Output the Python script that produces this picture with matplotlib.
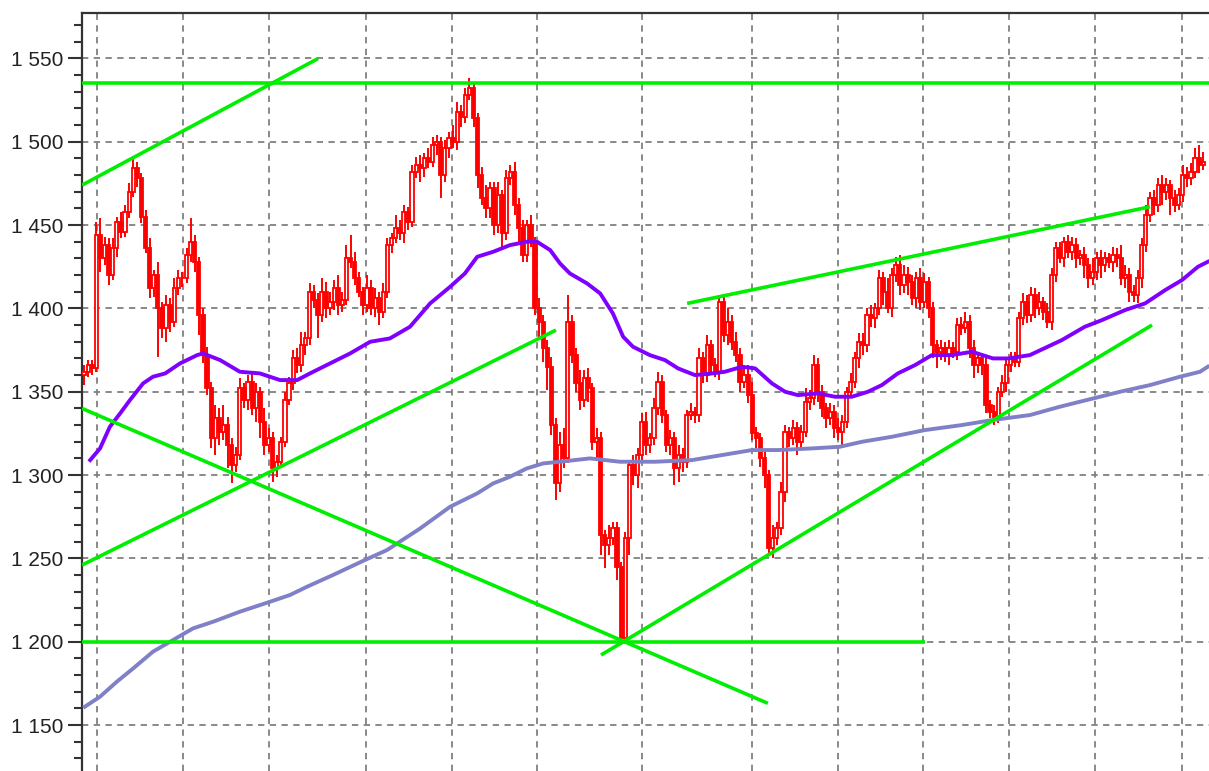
import numpy as np
import matplotlib.pyplot as plt
from matplotlib.ticker import MultipleLocator, FixedLocator, FuncFormatter

# daily closes left to right (10 per row)
closes = [
    1362, 1366, 1364, 1444, 1430, 1438, 1420, 1436, 1452, 1446,
    1458, 1470, 1484, 1478, 1455, 1436, 1412, 1420, 1400, 1388,
    1402, 1392, 1412, 1418, 1418, 1432, 1440, 1428, 1396, 1372,
    1352, 1322, 1334, 1326, 1330, 1318, 1306, 1312, 1352, 1345,
    1356, 1340, 1350, 1332, 1318, 1322, 1304, 1308, 1320, 1345,
    1355, 1370, 1366, 1378, 1382, 1410, 1405, 1396, 1410, 1400,
    1404, 1412, 1402, 1405, 1430, 1428, 1418, 1410, 1402, 1412,
    1400, 1406, 1398, 1410, 1438, 1442, 1448, 1445, 1458, 1452,
    1482, 1486, 1484, 1490, 1488, 1498, 1500, 1480, 1496, 1502,
    1500, 1518, 1515, 1528, 1532, 1514, 1480, 1466, 1460, 1472,
    1450, 1468, 1445, 1478, 1482, 1462, 1448, 1432, 1450, 1440,
    1400, 1392, 1376, 1365, 1330, 1295, 1318, 1310, 1392, 1372,
    1355, 1345, 1358, 1352, 1320, 1322, 1264, 1258, 1262, 1268,
    1245, 1202, 1262, 1306, 1300, 1312, 1332, 1318, 1322, 1340,
    1356, 1336, 1318, 1322, 1304, 1312, 1308, 1336, 1338, 1336,
    1370, 1360, 1378, 1366, 1362, 1404, 1384, 1392, 1380, 1372,
    1356, 1360, 1348, 1325, 1322, 1310, 1300, 1256, 1262, 1268,
    1290, 1326, 1322, 1328, 1320, 1326, 1344, 1346, 1366, 1350,
    1340, 1334, 1338, 1328, 1326, 1332, 1350, 1356, 1370, 1380,
    1378, 1396, 1394, 1400, 1418, 1410, 1400, 1420, 1426, 1414,
    1420, 1416, 1406, 1418, 1404, 1416, 1400, 1378, 1374, 1376,
    1372, 1376, 1374, 1390, 1388, 1392, 1376, 1366, 1370, 1366,
    1342, 1338, 1335, 1350, 1355, 1366, 1370, 1368, 1394, 1404,
    1396, 1408, 1400, 1404, 1398, 1392, 1420, 1436, 1430, 1440,
    1434, 1438, 1430, 1432, 1426, 1418, 1422, 1430, 1426, 1430,
    1428, 1432, 1430, 1418, 1420, 1410, 1408, 1418, 1438, 1456,
    1466, 1462, 1474, 1470, 1474, 1466, 1462, 1468, 1480, 1478,
    1482, 1490, 1486, 1488,
]
first_open = 1360

# wick sizes above / below the body
wick_up = [
    4, 3, 3, 8, 10, 5, 4, 6, 3, 6,
    4, 5, 6, 4, 3, 4, 6, 3, 8, 4,
    6, 4, 6, 5, 4, 4, 14, 4, 3, 4,
    5, 4, 8, 6, 12, 5, 4, 5, 6, 3,
    4, 6, 5, 3, 8, 6, 4, 4, 3, 5,
    4, 5, 6, 8, 4, 5, 4, 4, 8, 6,
    6, 5, 8, 5, 8, 14, 6, 4, 3, 8,
    5, 6, 4, 5, 4, 3, 8, 5, 4, 3,
    4, 5, 6, 3, 6, 5, 4, 3, 5, 4,
    8, 6, 4, 4, 6, 4, 3, 5, 8, 4,
    4, 8, 3, 5, 4, 6, 4, 5, 3, 6,
    3, 6, 4, 5, 6, 4, 8, 10, 16, 4,
    4, 8, 5, 6, 3, 6, 4, 3, 8, 4,
    4, 3, 4, 3, 6, 4, 5, 6, 3, 6,
    6, 4, 3, 5, 4, 6, 4, 3, 5, 3,
    6, 4, 6, 3, 4, 4, 3, 8, 4, 6,
    4, 5, 6, 8, 4, 3, 4, 3, 8, 4,
    6, 4, 3, 5, 4, 4, 8, 5, 6, 4,
    4, 3, 5, 4, 6, 4, 3, 5, 4, 5,
    5, 4, 6, 3, 5, 4, 8, 4, 5, 6,
    6, 5, 4, 4, 6, 5, 3, 4, 3, 5,
    4, 5, 4, 4, 5, 6, 4, 5, 4, 3,
    4, 3, 4, 3, 5, 4, 4, 4, 4, 5,
    4, 5, 4, 6, 3, 5, 4, 4, 4, 3,
    4, 5, 4, 3, 5, 4, 8, 4, 5, 4,
    3, 5, 4, 8, 6, 4, 4, 5, 4, 6,
    4, 5, 4, 6, 4, 3, 5, 4, 6, 5,
    5, 6, 8, 6,
]
wick_dn = [
    6, 3, 4, 2, 8, 4, 6, 3, 5, 4,
    3, 4, 3, 5, 4, 3, 6, 5, 29, 6,
    8, 6, 3, 4, 5, 3, 4, 6, 12, 5,
    4, 6, 10, 8, 5, 14, 11, 4, 3, 5,
    6, 4, 8, 10, 6, 4, 8, 5, 4, 3,
    3, 4, 5, 4, 6, 4, 5, 14, 4, 6,
    4, 5, 6, 4, 3, 4, 4, 3, 6, 4,
    4, 5, 8, 4, 4, 5, 3, 4, 6, 5,
    3, 4, 8, 5, 4, 3, 6, 14, 4, 6,
    4, 5, 6, 4, 3, 5, 8, 4, 6, 6,
    6, 5, 8, 4, 4, 6, 10, 4, 4, 3,
    4, 10, 8, 14, 6, 10, 5, 6, 3, 5,
    5, 6, 4, 8, 5, 10, 12, 14, 6, 4,
    8, 4, 3, 10, 6, 8, 4, 6, 5, 4,
    4, 5, 4, 6, 10, 8, 6, 4, 3, 5,
    4, 5, 4, 6, 3, 5, 4, 6, 5, 4,
    6, 4, 5, 4, 6, 5, 8, 4, 6, 4,
    4, 6, 5, 4, 8, 4, 3, 5, 4, 6,
    5, 6, 4, 6, 5, 8, 4, 3, 4, 6,
    6, 4, 5, 6, 4, 8, 3, 5, 4, 6,
    5, 8, 4, 6, 5, 4, 6, 8, 10, 5,
    4, 6, 4, 5, 4, 3, 6, 8, 5, 6,
    5, 4, 5, 4, 3, 5, 4, 3, 3, 4,
    5, 4, 6, 4, 5, 4, 5, 4, 3, 5,
    4, 5, 6, 4, 8, 6, 4, 5, 8, 4,
    4, 6, 5, 4, 6, 6, 4, 5, 6, 4,
    4, 6, 4, 8, 5, 10, 4, 3, 4, 5,
    4, 4, 5, 3,
]

# short moving average (purple), read at bar positions
ma_fast_idx = [1.5, 3.9, 6.3, 8.8, 11.2, 14.4, 16.8, 19.8, 23.4, 27.6, 29, 33.2, 38, 42.9,
               47.8, 52, 55.1, 60, 64.9, 69.8, 74.6, 79.5, 84.4, 89.3, 92.9, 95.9, 99.8,
               103.9, 108, 110.5, 113.7, 116.1, 118.5, 122.7, 125.9, 129, 131.5, 133.9,
               138, 141.7, 144.9, 149, 153.2, 156.3, 160.5, 163.7, 167.8, 171, 174.1,
               179, 183.2, 187.3, 191.2, 194.6, 198.5, 202.7, 206.8, 211.7, 216.6,
               221.7, 225.4, 230.7, 238.5, 244.1, 248.3, 253.9, 258.8, 263.7, 267.8,
               271.7, 274.1]
ma_fast_val = [1309, 1316, 1329, 1337, 1345, 1355, 1359, 1361, 1367, 1372, 1373, 1369, 1362, 1361,
               1357, 1357, 1361, 1367, 1373, 1380, 1382, 1389, 1403, 1413, 1421, 1431, 1434,
               1438, 1440, 1440, 1435, 1427, 1421, 1415, 1409, 1397, 1383, 1377,
               1372, 1369, 1364, 1360, 1361, 1362, 1365, 1364, 1355, 1350, 1348,
               1349, 1347, 1347, 1350, 1354, 1361, 1366, 1372, 1372, 1374,
               1370, 1370, 1372, 1381, 1389, 1393, 1399, 1403, 1411, 1417,
               1425, 1428]

# long moving average (grey-blue)
ma_slow_idx = [0.2, 3.9, 8, 12, 16.8, 21.7, 26.6, 31.5, 38, 45.4, 50.2, 54.4, 60.7, 68.5,
               73.9, 82, 89.3, 95.9, 99.8, 103.9, 108, 112, 116.1, 123.4, 130.7, 139.3,
               148.3, 155.6, 162.9, 169.3, 177.6, 184.4, 189.8, 197.1, 205.1, 214.1,
               221.5, 230.7, 238, 242.9, 252.7, 260, 267.3, 272.2, 274.1]
ma_slow_val = [1161, 1167, 1176, 1184, 1194, 1201, 1208, 1212, 1218, 1224, 1228, 1233, 1240, 1249,
               1255, 1268, 1281, 1289, 1295, 1299, 1304, 1307, 1308, 1310, 1308, 1308,
               1309, 1312, 1315, 1315, 1316, 1317, 1320, 1323, 1327, 1330,
               1333, 1336, 1341, 1344, 1350, 1354, 1359, 1362, 1365]

# hand-drawn trend lines: (start bar, start price, end bar, end price)
trend_lines = [
    (-0.5, 1535, 274.5, 1535),
    (-0.5, 1474, 57.1, 1550),
    (-0.5, 1200, 205.1, 1200),
    (-0.5, 1340, 166.8, 1163),
    (-0.5, 1246, 115.1, 1387),
    (126.1, 1192, 260.5, 1390),
    (147.1, 1403, 260.0, 1461),
]

# vertical date grid (month starts, in bar units)
month_lines = [3.2, 24.1, 45.1, 68.8, 89.8, 110.5, 136.1, 162.9, 183.9, 204.6, 225.6, 246.6, 267.8]

closes = np.array(closes, dtype=float)
opens = np.concatenate([[first_open], closes[:-1]])
highs = np.maximum(opens, closes) + np.array(wick_up)
lows = np.minimum(opens, closes) - np.array(wick_dn)
x = np.arange(len(closes))
rising = closes >= opens

fig = plt.figure(figsize=(12.09, 7.71), dpi=100)
ax = fig.add_axes([82 / 1209, 0, 1 - 82 / 1209, 1 - 13 / 771])

ax.vlines(x, lows, highs, color='#ff0000', linewidth=1.4, zorder=2)
ax.bar(x[rising], (closes - opens)[rising], bottom=opens[rising], width=0.78,
       facecolor='white', edgecolor='#ff0000', linewidth=1.3, zorder=3)
ax.bar(x[~rising], (opens - closes)[~rising], bottom=closes[~rising], width=0.78,
       facecolor='#ff0000', edgecolor='#ff0000', linewidth=1.3, zorder=3)

ax.plot(ma_slow_idx, ma_slow_val, color='#8080c8', linewidth=2.8, zorder=4)
ax.plot(ma_fast_idx, ma_fast_val, color='#8000ff', linewidth=2.8, zorder=4)

for x0, y0, x1, y1 in trend_lines:
    ax.plot([x0, x1], [y0, y1], color='#00ee00', linewidth=2.6, zorder=5,
            solid_capstyle='butt')

ax.set_xlim(-0.5, 274.4)
ax.set_ylim(1122.4, 1577.3)

ax.yaxis.set_major_locator(MultipleLocator(50))
ax.yaxis.set_minor_locator(MultipleLocator(10))
ax.yaxis.set_major_formatter(FuncFormatter(lambda v, p: f"{int(v):,}".replace(",", " ")))
ax.xaxis.set_major_locator(FixedLocator(month_lines))

ax.grid(True, which='major', color='#808080', linestyle=(0, (3.5, 3)), linewidth=1.3)
ax.set_axisbelow(True)

ax.tick_params(axis='x', length=0, labelbottom=False)
ax.tick_params(axis='y', which='major', length=10, width=1.5, pad=3.5,
               labelsize=15, labelcolor='#222222', color='#333333')
ax.tick_params(axis='y', which='minor', length=5.5, width=1.5, color='#333333')
for lab in ax.get_yticklabels():
    lab.set_family('Liberation Sans')

ax.spines['right'].set_visible(False)
ax.spines['bottom'].set_visible(False)
ax.spines['left'].set_linewidth(1.6)
ax.spines['top'].set_linewidth(1.6)
ax.spines['left'].set_color('#333333')
ax.spines['top'].set_color('#333333')

fig.savefig('out.png', dpi=100)
